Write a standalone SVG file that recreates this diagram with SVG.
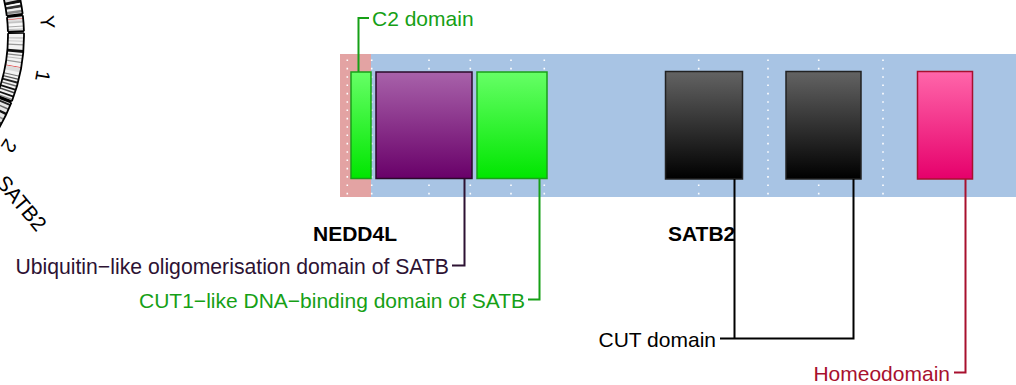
<svg xmlns="http://www.w3.org/2000/svg" width="1016" height="385" viewBox="0 0 1016 385">
<style>
text{font-family:"Liberation Sans",Arial,sans-serif;font-size:21px}
.b{font-weight:bold;fill:#000}
.cl{font-size:20px;fill:#000}
.dot{stroke:#fff;stroke-width:1.6;stroke-dasharray:1.6 6.73;fill:none}
.conn{fill:none;stroke-width:2}
.band{fill:none;stroke-width:16}
.ol{fill:none;stroke:#000;stroke-width:1.8}
</style>
<defs>
<linearGradient id="gGreen" x1="0" y1="0" x2="0" y2="1"><stop offset="0" stop-color="#66ff66"/><stop offset="1" stop-color="#00e600"/></linearGradient>
<linearGradient id="gPurple" x1="0" y1="0" x2="0" y2="1"><stop offset="0" stop-color="#a862aa"/><stop offset="1" stop-color="#690069"/></linearGradient>
<linearGradient id="gBlack" x1="0" y1="0" x2="0" y2="1"><stop offset="0" stop-color="#636363"/><stop offset="1" stop-color="#000"/></linearGradient>
<linearGradient id="gPink" x1="0" y1="0" x2="0" y2="1"><stop offset="0" stop-color="#ff66aa"/><stop offset="1" stop-color="#e6006b"/></linearGradient>
</defs>
<rect width="1016" height="385" fill="#fff"/>

<g id="ideogram">
<!-- X tail -->
<circle class="band" cx="-158" cy="36" r="174" pathLength="360" stroke="#dcdcdc" stroke-dasharray="23 337" stroke-dashoffset="30"/>
<circle class="band" cx="-158" cy="36" r="174" pathLength="360" stroke="#111" stroke-dasharray="1 359" stroke-dashoffset="11.6"/>
<circle class="band" cx="-158" cy="36" r="174" pathLength="360" stroke="#fff" stroke-dasharray="0.5 359.5" stroke-dashoffset="10.5"/>
<circle class="band" cx="-158" cy="36" r="174" pathLength="360" stroke="#333" stroke-dasharray="0.9 359.1" stroke-dashoffset="10"/>
<circle class="band" cx="-158" cy="36" r="174" pathLength="360" stroke="#f2f2f2" stroke-dasharray="0.6 359.4" stroke-dashoffset="9"/>
<circle class="band" cx="-158" cy="36" r="174" pathLength="360" stroke="#888" stroke-dasharray="0.8 359.2" stroke-dashoffset="8.3"/>
<!-- Y -->
<circle class="band" cx="-158" cy="36" r="174" pathLength="360" stroke="#e0e0e0" stroke-dasharray="5 355" stroke-dashoffset="6.5"/>
<circle class="band" cx="-158" cy="36" r="174" pathLength="360" stroke="#e03030" stroke-dasharray="0.2 359.8" stroke-dashoffset="5.7"/>
<circle class="band" cx="-158" cy="36" r="174" pathLength="360" stroke="#c4c4c4" stroke-dasharray="0.5 359.5" stroke-dashoffset="4.8"/>
<circle class="band" cx="-158" cy="36" r="174" pathLength="360" stroke="#f8f8f8" stroke-dasharray="2.7 357.3" stroke-dashoffset="4.2"/>
<circle class="band" cx="-158" cy="36" r="174" pathLength="360" stroke="#aaa" stroke-dasharray="0.3 359.7" stroke-dashoffset="3.3"/>
<circle class="band" cx="-158" cy="36" r="174" pathLength="360" stroke="#bbb" stroke-dasharray="0.3 359.7" stroke-dashoffset="2.4"/>
<!-- chr1 -->
<circle class="band" cx="-158" cy="36" r="174" pathLength="360" stroke="#f3f3f3" stroke-dasharray="22 338" stroke-dashoffset="1"/>
<g fill="none" stroke-width="16">
<circle cx="-158" cy="36" r="174" pathLength="360" stroke="#aaa" stroke-dasharray="0.3 359.7" stroke-dashoffset="-0.5"/>
<circle cx="-158" cy="36" r="174" pathLength="360" stroke="#ccc" stroke-dasharray="0.3 359.7" stroke-dashoffset="-1.5"/>
<circle cx="-158" cy="36" r="174" pathLength="360" stroke="#999" stroke-dasharray="0.4 359.6" stroke-dashoffset="-2.6"/>
<circle cx="-158" cy="36" r="174" pathLength="360" stroke="#111" stroke-dasharray="1 359" stroke-dashoffset="-4.4"/>
<circle cx="-158" cy="36" r="174" pathLength="360" stroke="#888" stroke-dasharray="0.4 359.6" stroke-dashoffset="-6"/>
<circle cx="-158" cy="36" r="174" pathLength="360" stroke="#bbb" stroke-dasharray="0.4 359.6" stroke-dashoffset="-7"/>
<circle cx="-158" cy="36" r="174" pathLength="360" stroke="#999" stroke-dasharray="0.4 359.6" stroke-dashoffset="-8.2"/>
<circle cx="-158" cy="36" r="174" pathLength="360" stroke="#e03030" stroke-dasharray="0.25 359.75" stroke-dashoffset="-9.9"/>
<circle cx="-158" cy="36" r="174" pathLength="360" stroke="#dcdcdc" stroke-dasharray="1.4 358.6" stroke-dashoffset="-10.15"/>
<circle cx="-158" cy="36" r="174" pathLength="360" stroke="#777" stroke-dasharray="0.4 359.6" stroke-dashoffset="-12.6"/>
<circle cx="-158" cy="36" r="174" pathLength="360" stroke="#555" stroke-dasharray="0.4 359.6" stroke-dashoffset="-13.6"/>
<circle cx="-158" cy="36" r="174" pathLength="360" stroke="#222" stroke-dasharray="0.6 359.4" stroke-dashoffset="-14.6"/>
<circle cx="-158" cy="36" r="174" pathLength="360" stroke="#666" stroke-dasharray="0.5 359.5" stroke-dashoffset="-15.8"/>
<circle cx="-158" cy="36" r="174" pathLength="360" stroke="#111" stroke-dasharray="0.6 359.4" stroke-dashoffset="-16.9"/>
<circle cx="-158" cy="36" r="174" pathLength="360" stroke="#444" stroke-dasharray="0.5 359.5" stroke-dashoffset="-18"/>
<circle cx="-158" cy="36" r="174" pathLength="360" stroke="#111" stroke-dasharray="0.6 359.4" stroke-dashoffset="-19.2"/>
<circle cx="-158" cy="36" r="174" pathLength="360" stroke="#888" stroke-dasharray="0.4 359.6" stroke-dashoffset="-20.3"/>
<!-- chr2 -->
<circle cx="-158" cy="36" r="174" pathLength="360" stroke="#e6e6e6" stroke-dasharray="21.5 338.5" stroke-dashoffset="-21.5"/>
<circle cx="-158" cy="36" r="174" pathLength="360" stroke="#222" stroke-dasharray="0.6 359.4" stroke-dashoffset="-22"/>
<circle cx="-158" cy="36" r="174" pathLength="360" stroke="#666" stroke-dasharray="0.5 359.5" stroke-dashoffset="-23.5"/>
<circle cx="-158" cy="36" r="174" pathLength="360" stroke="#111" stroke-dasharray="0.8 359.2" stroke-dashoffset="-25"/>
<circle cx="-158" cy="36" r="174" pathLength="360" stroke="#888" stroke-dasharray="0.5 359.5" stroke-dashoffset="-27"/>
<circle cx="-158" cy="36" r="174" pathLength="360" stroke="#333" stroke-dasharray="0.7 359.3" stroke-dashoffset="-28.5"/>
</g>
<!-- outlines -->
<circle class="ol" cx="-158" cy="36" r="182" pathLength="360" stroke-dasharray="23 337" stroke-dashoffset="30"/>
<circle class="ol" cx="-158" cy="36" r="166" pathLength="360" stroke-dasharray="23 337" stroke-dashoffset="30"/>
<circle class="ol" cx="-158" cy="36" r="182" pathLength="360" stroke-dasharray="5 355" stroke-dashoffset="6.5"/>
<circle class="ol" cx="-158" cy="36" r="166" pathLength="360" stroke-dasharray="5 355" stroke-dashoffset="6.5"/>
<circle class="ol" cx="-158" cy="36" r="182" pathLength="360" stroke-dasharray="22 338" stroke-dashoffset="1"/>
<circle class="ol" cx="-158" cy="36" r="166" pathLength="360" stroke-dasharray="22 338" stroke-dashoffset="1"/>
<circle class="ol" cx="-158" cy="36" r="182" pathLength="360" stroke-dasharray="21.5 338.5" stroke-dashoffset="-21.5"/>
<circle class="ol" cx="-158" cy="36" r="166" pathLength="360" stroke-dasharray="21.5 338.5" stroke-dashoffset="-21.5"/>
<path class="ol" d="M6.76,15.77L22.64,13.82M6.93,17.21L22.83,15.4M7.94,31.65L23.94,31.24M7.98,33.1L23.97,32.82M-3.03,95.49L11.91,101.22M-3.55,96.84L11.34,102.7"/>
<text class="cl" transform="translate(47.5,22) rotate(85)" text-anchor="middle" y="7">Y</text>
<text class="cl" transform="translate(43,76) rotate(100)" text-anchor="middle" y="7">1</text>
<text class="cl" transform="translate(9,146) rotate(123)" text-anchor="middle" y="7">2</text>
<text class="cl" transform="translate(-5,183) rotate(50)" style="font-size:21px">SATB2</text>
</g>

<g id="track">
<rect x="340" y="54" width="31" height="143" fill="#e3a3a3"/>
<rect x="371" y="54" width="645" height="143" fill="#a8c4e4"/>
<path class="dot" d="M347.3,59.5V195M371.7,59.5V195M429,59.5V195M470.3,59.5V195M511,59.5V195M544.3,59.5V195M698.7,59.5V195M768,59.5V195M818.7,59.5V195M883,59.5V195"/>
</g>

<g id="gene-NEDD4L"><text class="b" x="313" y="241">NEDD4L</text></g>
<g id="gene-SATB2"><text class="b" x="668" y="241">SATB2</text></g>

<g id="c2-domain">
<rect x="351" y="72" width="20" height="106.5" fill="url(#gGreen)" stroke="#1a9e1a" stroke-width="1.5"/>
<text x="372" y="26" fill="#16a016">C2 domain</text>
</g>
<g id="ubiquitin-domain">
<rect x="376" y="72" width="96" height="106.5" fill="url(#gPurple)" stroke="#2a0a2a" stroke-width="1.5"/>
<text x="449" y="273.5" text-anchor="end" fill="#2d1233" style="font-size:21.2px">Ubiquitin−like oligomerisation domain of SATB</text>
</g>
<g id="cut1-domain">
<rect x="477" y="72" width="70" height="106.5" fill="url(#gGreen)" stroke="#1a9e1a" stroke-width="1.5"/>
<text x="525" y="307.5" text-anchor="end" fill="#16a016">CUT1−like DNA−binding domain of SATB</text>
</g>
<g id="cut-domain-1">
<rect x="665.5" y="71.5" width="77" height="107.5" fill="url(#gBlack)" stroke="#222" stroke-width="1.5"/>
</g>
<g id="cut-domain-2">
<rect x="786" y="71.5" width="75" height="107.5" fill="url(#gBlack)" stroke="#222" stroke-width="1.5"/>
<text x="716" y="346.5" text-anchor="end" fill="#000">CUT domain</text>
</g>
<g id="homeodomain">
<rect x="917.5" y="71.5" width="55" height="107.5" fill="url(#gPink)" stroke="#a8102e" stroke-width="1.5"/>
<text x="950" y="380.5" text-anchor="end" fill="#a8102e">Homeodomain</text>
</g>

<g id="connectors">
<path class="conn" stroke="#16a016" d="M358.5,72V18H369"/>
<path class="conn" stroke="#2d1233" d="M464.5,179V265.5H452"/>
<path class="conn" stroke="#16a016" d="M539.5,179V299.5H528"/>
<path class="conn" stroke="#000" d="M734.5,179V338.5H720M853.5,179V338.5H734.5"/>
<path class="conn" stroke="#a8102e" d="M965.5,179V372.5H954"/>
</g>
</svg>
